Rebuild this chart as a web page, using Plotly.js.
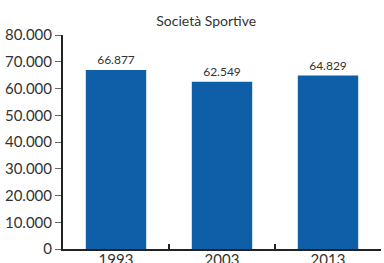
<!DOCTYPE html>
<html><head><meta charset="utf-8">
<script src="https://cdn.plot.ly/plotly-3.0.1.min.js"></script>
<style>html,body{margin:0;padding:0;background:#fff}#c{width:384px;height:263px}</style>
</head><body><div id="c"></div>
<script>
const years = ['1993', '2003', '2013'];
const societa = [66877, 62549, 64829];
const yTicks = [0, 10000, 20000, 30000, 40000, 50000, 60000, 70000, 80000];
const chartTitle = 'Società Sportive';

const FONT = 'Lato, "Open Sans", sans-serif';
Plotly.newPlot('c', [{
  type: 'bar',
  x: years,
  y: societa,
  marker: {color: '#0e5fa8'},
  text: societa,
  texttemplate: '%{y:,}',
  textposition: 'outside',
  cliponaxis: false,
  textfont: {family: FONT, size: 12, color: '#333'},
  hoverinfo: 'none'
}], {
  width: 384, height: 263,
  margin: {l: 63, r: 3, t: 35, b: 14, pad: 0},
  paper_bgcolor: '#fff', plot_bgcolor: '#fff',
  separators: ',.',
  bargap: 0.43,
  showlegend: false,
  title: {text: chartTitle, xref: 'container', x: 0.537, xanchor: 'center', yref: 'container', y: 0.92, yanchor: 'middle',
          font: {family: FONT, size: 14, color: '#333'}},
  xaxis: {type: 'category', showline: true, linecolor: '#222', linewidth: 2,
          ticks: 'inside', tickson: 'boundaries', ticklen: 5, tickcolor: '#222', tickwidth: 2,
          ticklabelstandoff: -4,
          tickfont: {family: FONT, size: 15, color: '#333'}, showgrid: false, zeroline: false, fixedrange: true},
  yaxis: {range: [0, 80000], tickvals: yTicks, tickformat: ',d', showline: true, linecolor: '#222', linewidth: 2,
          ticks: 'outside', ticklen: 6, tickcolor: '#666', tickwidth: 1,
          tickfont: {family: FONT, size: 15, color: '#333'}, showgrid: false, zeroline: false, fixedrange: true}
}, {displayModeBar: false, staticPlot: true});
</script></body></html>
